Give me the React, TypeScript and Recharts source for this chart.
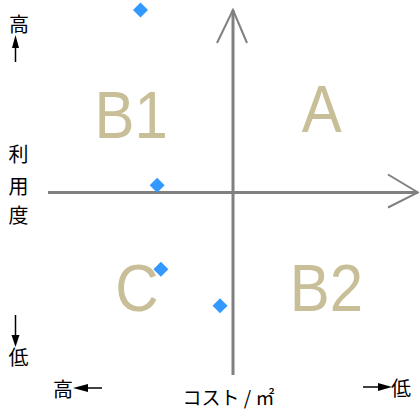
import { ScatterChart, Scatter, XAxis, YAxis, ReferenceLine } from "recharts";

// 散布点（コスト / ㎡ vs 利用度）
const costX = [-50, -41, -39, -7];
const usageY = [100, 4, -42, -62];

// 象限ラベル
const quadrantNames = ["A", "B1", "C", "B2"];
const quadrantX = [48, -55, -52, 50.5];
const quadrantY = [33, 30, -65, -65];

const points = costX.map((x, i) => ({ x, y: usageY[i] }));
const quadrants = quadrantNames.map((name, i) => ({
  x: quadrantX[i],
  y: quadrantY[i],
  name,
}));

const AXIS = "#808080";
const CJK = "'Noto Sans CJK JP', 'Noto Sans', sans-serif";

const Diamond = (props: any) => {
  const { cx, cy } = props;
  const r = 7.5;
  return (
    <polygon
      points={`${cx},${cy - r} ${cx + r},${cy} ${cx},${cy + r} ${cx - r},${cy}`}
      fill="#3399FF"
    />
  );
};

const QuadrantLabel = (props: any) => {
  const { cx, cy, payload } = props;
  return (
    <text
      transform={`translate(${cx},${cy}) scale(1,1.12)`}
      textAnchor="middle"
      fontFamily="'Liberation Sans', Arial, sans-serif"
      fontSize={60}
      fill="#C8BF98"
    >
      {payload.name}
    </text>
  );
};

// 縦軸（上向き矢印）
const VerticalArrow = (props: any) => {
  const { x1, y1, y2 } = props;
  const top = Math.min(y1, y2);
  const bottom = Math.max(y1, y2);
  return (
    <g>
      <line x1={x1} y1={top} x2={x1} y2={bottom} stroke={AXIS} strokeWidth={3} />
      <polyline
        points={`${x1 - 16},${top + 33} ${x1},${top} ${x1 + 14},${top + 33}`}
        fill="none"
        stroke={AXIS}
        strokeWidth={2}
      />
    </g>
  );
};

// 横軸（右向き矢印）
const HorizontalArrow = (props: any) => {
  const { x1, x2, y1 } = props;
  const left = Math.min(x1, x2);
  const right = Math.max(x1, x2);
  return (
    <g>
      <line x1={left} y1={y1} x2={right} y2={y1} stroke={AXIS} strokeWidth={3} />
      <polyline
        points={`${right - 30},${y1 - 18} ${right},${y1} ${right - 30},${y1 + 15}`}
        fill="none"
        stroke={AXIS}
        strokeWidth={2}
      />
    </g>
  );
};

export default function App() {
  return (
    <div style={{ position: "absolute", left: 0, top: 0, width: 419, height: 410 }}>
      <ScatterChart
        width={419}
        height={410}
        margin={{ top: 10, right: 1, bottom: 35, left: 48 }}
      >
        <XAxis type="number" dataKey="x" domain={[-100, 100]} hide />
        <YAxis type="number" dataKey="y" domain={[-100, 100]} hide />
        <ReferenceLine x={0} shape={VerticalArrow} />
        <ReferenceLine y={0} shape={HorizontalArrow} />
        <Scatter data={quadrants} shape={QuadrantLabel} isAnimationActive={false} />
        <Scatter data={points} shape={Diamond} isAnimationActive={false} />
      </ScatterChart>

      <svg
        width={419}
        height={410}
        style={{ position: "absolute", left: 0, top: 0, pointerEvents: "none" }}
        fontFamily={CJK}
      >
        {/* 縦軸タイトル */}
        <text x={19} y={31.5} fontSize={20} textAnchor="middle">高</text>
        <line x1={15.5} y1={47} x2={15.5} y2={62} stroke="#000" strokeWidth={1.5} />
        <polygon points="15.5,35 12,48 19,48" fill="#000" />
        <text x={18.5} y={161.5} fontSize={20} textAnchor="middle">利</text>
        <text x={18.5} y={193.5} fontSize={20} textAnchor="middle">用</text>
        <text x={18.5} y={223} fontSize={20} textAnchor="middle">度</text>
        <line x1={15.5} y1={315} x2={15.5} y2={336} stroke="#000" strokeWidth={1.5} />
        <polygon points="11.5,335 19.5,335 15.5,347" fill="#000" />
        <text x={18.5} y={364.5} fontSize={20} textAnchor="middle">低</text>

        {/* 横軸タイトル */}
        <text x={63} y={396.5} fontSize={20} textAnchor="middle">高</text>
        <polygon points="73,388 88,384 88,392" fill="#000" />
        <line x1={87} y1={388} x2={102} y2={388} stroke="#000" strokeWidth={1.5} />
        <text x={228.5} y={405} fontSize={19} textAnchor="middle">コスト / ㎡</text>
        <line x1={363} y1={387} x2={379} y2={387} stroke="#000" strokeWidth={1.5} />
        <polygon points="378,383 378,391 392,387" fill="#000" />
        <text x={401} y={395.5} fontSize={20} textAnchor="middle">低</text>
      </svg>
    </div>
  );
}
